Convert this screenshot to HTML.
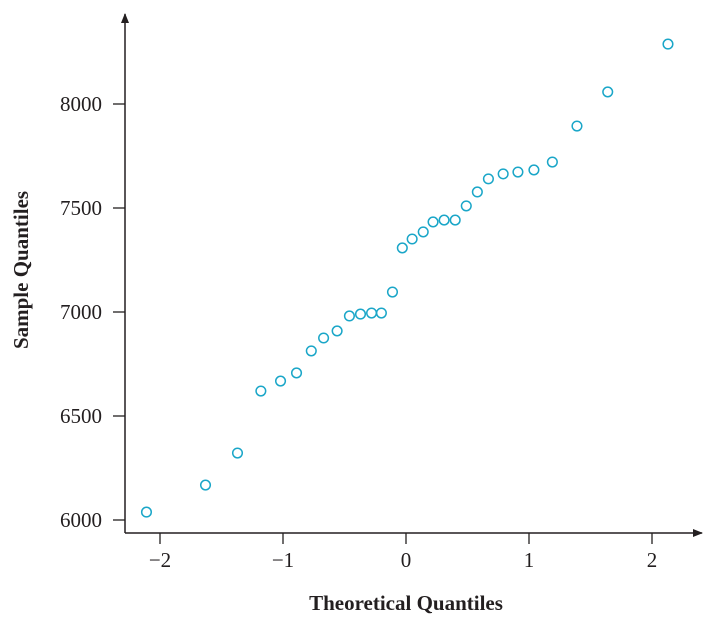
<!DOCTYPE html>
<html><head><meta charset="utf-8"><style>
body{margin:0;background:#fff;}
svg text{font-family:"Liberation Serif",serif;fill:#231f20;}
</style></head><body>
<svg id="chart" width="712" height="620" viewBox="0 0 712 620" xmlns="http://www.w3.org/2000/svg">
<defs><marker id="ah" viewBox="0 0 10 10" refX="9" refY="5" markerWidth="10" markerHeight="10" markerUnits="userSpaceOnUse" orient="auto"><path d="M0,1 L10,5 L0,9 Z" fill="#231f20"/></marker></defs>
<line x1="125" y1="533" x2="125" y2="14" stroke="#231f20" stroke-width="1.5" marker-end="url(#ah)"/>
<line x1="125" y1="533" x2="702" y2="533" stroke="#231f20" stroke-width="1.5" marker-end="url(#ah)"/>
<g id="ticks"></g>
<g id="pts"></g>
<text x="406" y="610" text-anchor="middle" font-size="21" font-weight="bold">Theoretical Quantiles</text>
<text transform="translate(28,270) rotate(-90)" text-anchor="middle" font-size="21" font-weight="bold">Sample Quantiles</text>
</svg>
<script>
const theoretical=[-2.11,-1.63,-1.37,-1.18,-1.02,-0.89,-0.77,-0.67,-0.56,-0.46,-0.37,-0.28,-0.20,-0.11,-0.03,0.05,0.14,0.22,0.31,0.40,0.49,0.58,0.67,0.79,0.91,1.04,1.19,1.39,1.64,2.13];
const sample=[6038,6168,6322,6620,6668,6707,6813,6875,6909,6981,6990,6995,6995,7096,7308,7351,7385,7433,7442,7442,7510,7577,7640,7664,7673,7683,7721,7894,8058,8288];
const xTicks=[-2,-1,0,1,2];
const xTickLabels=["\u22122","\u22121","0","1","2"];
const yTicks=[6000,6500,7000,7500,8000];
const ns="http://www.w3.org/2000/svg";
const sx=v=>406+v*123;
const sy=v=>520-(v-6000)*0.208;
const tg=document.getElementById('ticks');
xTicks.forEach((t,i)=>{
  const l=document.createElementNS(ns,'line');
  l.setAttribute('x1',sx(t));l.setAttribute('x2',sx(t));l.setAttribute('y1',533);l.setAttribute('y2',544);
  l.setAttribute('stroke','#231f20');l.setAttribute('stroke-width','1.3');
  
  
  tg.appendChild(l);
  const tx=document.createElementNS(ns,'text');
  tx.setAttribute('x',sx(t));tx.setAttribute('y',567);tx.setAttribute('text-anchor','middle');tx.setAttribute('font-size','21');
  tx.textContent=xTickLabels[i];
  
  
  tg.appendChild(tx);
});
yTicks.forEach(t=>{
  const l=document.createElementNS(ns,'line');
  l.setAttribute('x1',113);l.setAttribute('x2',125);l.setAttribute('y1',sy(t));l.setAttribute('y2',sy(t));
  l.setAttribute('stroke','#231f20');l.setAttribute('stroke-width','1.3');
  
  
  tg.appendChild(l);
  const tx=document.createElementNS(ns,'text');
  tx.setAttribute('x',102);tx.setAttribute('y',sy(t)+7);tx.setAttribute('text-anchor','end');tx.setAttribute('font-size','21');
  tx.textContent=t;
  
  
  tg.appendChild(tx);
});
const pg=document.getElementById('pts');
theoretical.forEach((x,i)=>{
  const c=document.createElementNS(ns,'circle');
  c.setAttribute('cx',sx(x));c.setAttribute('cy',sy(sample[i]));c.setAttribute('r',4.8);
  c.setAttribute('fill','none');c.setAttribute('stroke','#1aa6c8');c.setAttribute('stroke-width','1.5');
  
  
  pg.appendChild(c);
});
</script>
</body></html>
